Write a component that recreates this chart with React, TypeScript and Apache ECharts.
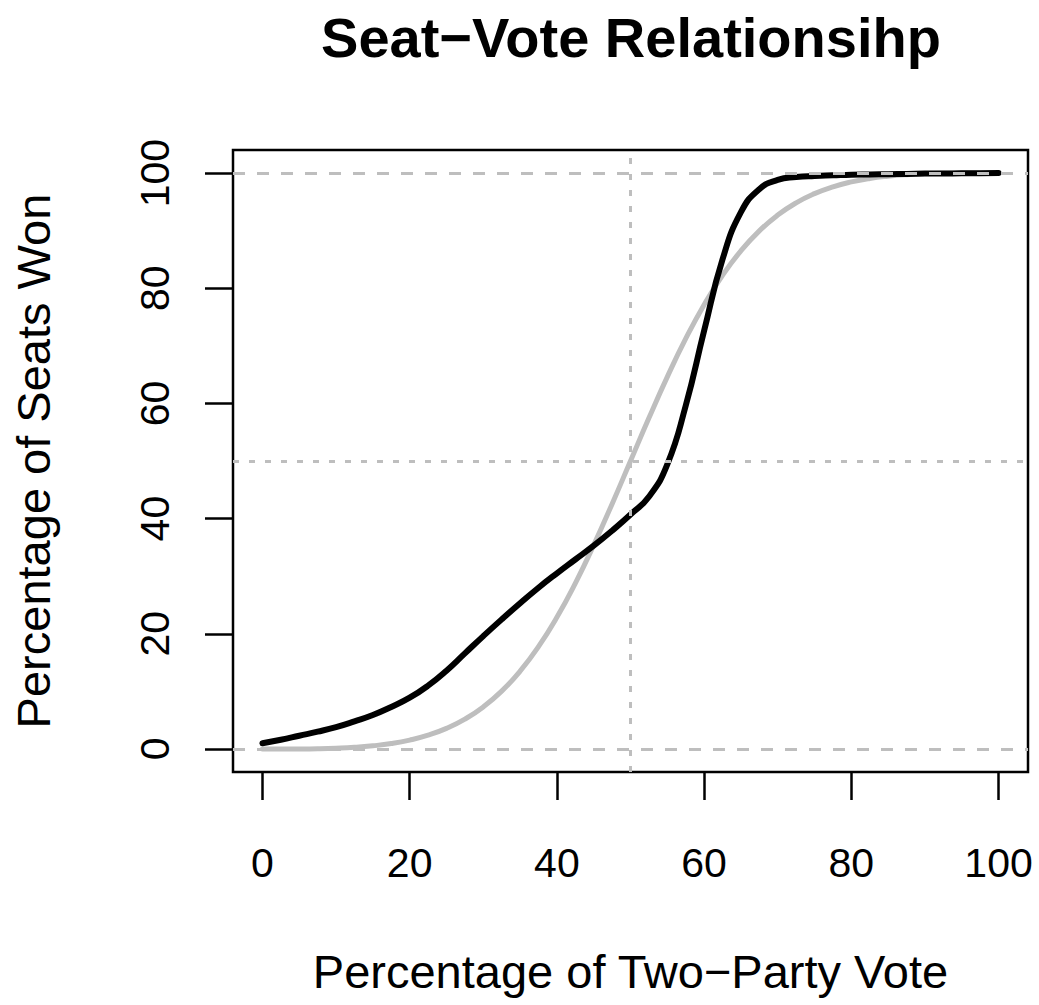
import React, { useEffect, useRef } from "react";
import * as echarts from "echarts";

// Percentage of two-party vote (x positions of the curve samples)
const voteShare = [
  0, 2.5, 5, 7.5, 10, 12.5, 15, 17.5, 20, 22.5,
  25, 27.5, 30, 32.5, 35, 37.5, 40, 42.5, 45, 47.5,
  50, 52.5, 55, 57.5, 60, 62.5, 65, 67.5, 70, 72.5,
  75, 77.5, 80, 82.5, 85, 87.5, 90, 92.5, 95, 97.5, 100,
];

// Black curve: percentage of seats won
const seatsBlack = [
  1.0, 1.6, 2.3, 3.0, 3.8, 4.8, 5.9, 7.3, 8.9, 11.0,
  13.6, 16.6, 19.6, 22.5, 25.3, 28.0, 30.5, 32.9, 35.3, 37.9,
  40.7, 43.8, 49.4, 59.6, 72.6, 85.0, 93.2, 97.2, 98.8, 99.3,
  99.5, 99.6, 99.7, 99.75, 99.8, 99.85, 99.9, 99.92, 99.95, 99.97, 100,
];

// Grey curve: percentage of seats won
const seatsGrey = [
  0.0, 0.0, 0.01, 0.05, 0.14, 0.29, 0.55, 0.94, 1.54, 2.39,
  3.57, 5.17, 7.3, 10.04, 13.5, 17.76, 22.86, 28.77, 35.39, 42.55,
  50.0, 57.45, 64.61, 71.23, 77.14, 82.24, 86.5, 89.96, 92.7, 94.83,
  96.43, 97.61, 98.46, 99.06, 99.45, 99.71, 99.86, 99.95, 99.99, 100, 100,
];

const xTicks = [0, 20, 40, 60, 80, 100];
const yTicks = [0, 20, 40, 60, 80, 100];
const refSeatsDashed = [0, 100];
const refSeatsDotted = [50];
const refVoteDotted = [50];

const TITLE = "Seat−Vote Relationsihp";
const X_NAME = "Percentage of Two−Party Vote";
const Y_NAME = "Percentage of Seats Won";

const FONT = "'Liberation Sans', Arial, Helvetica, sans-serif";
const GREY = "#bebebe";

export default function App() {
  const ref = useRef<HTMLDivElement>(null);

  useEffect(() => {
    if (!ref.current) return;
    const chart = echarts.init(ref.current, null, { renderer: "svg" });

    const black = voteShare.map((v, i) => [v, seatsBlack[i]]);
    const grey = voteShare.map((v, i) => [v, seatsGrey[i]]);

    const dashedStyle = { color: GREY, width: 3, type: [12, 12] as number[] };
    const dottedStyle = { color: GREY, width: 3, type: [6, 10] as number[] };

    const markData: any[] = [
      ...refSeatsDashed.map((y) => ({ yAxis: y, lineStyle: dashedStyle })),
      ...refSeatsDotted.map((y) => ({ yAxis: y, lineStyle: dottedStyle })),
      ...refVoteDotted.map((x) => ({ xAxis: x, lineStyle: dottedStyle })),
    ];

    chart.setOption({
      animation: false,
      backgroundColor: "#ffffff",
      title: {
        text: TITLE,
        left: 626,
        top: 4,
        textAlign: "center",
        textStyle: {
          fontFamily: FONT,
          fontWeight: "bold",
          fontSize: 56,
          color: "#000",
        },
      },
      grid: {
        left: 233,
        top: 150,
        width: 795,
        height: 622,
        show: true,
        borderColor: "#000",
        borderWidth: 2.5,
        backgroundColor: "transparent",
        containLabel: false,
        outerBoundsMode: "none",
      },
      xAxis: {
        type: "value",
        min: -4,
        max: 104,
        name: X_NAME,
        nameLocation: "middle",
        nameGap: 176,
        nameTextStyle: { fontFamily: FONT, fontSize: 47, color: "#000" },
        axisLine: { show: false, onZero: false },
        splitLine: { show: false },
        axisTick: {
          show: true,
          inside: false,
          length: 28,
          customValues: xTicks,
          lineStyle: { color: "#000", width: 2.5 },
        },
        axisLabel: {
          customValues: xTicks,
          margin: 70,
          fontSize: 41,
          fontFamily: FONT,
          color: "#000",
        },
      },
      yAxis: {
        type: "value",
        min: -4,
        max: 104,
        name: Y_NAME,
        nameLocation: "middle",
        nameGap: 176,
        nameRotate: 90,
        nameTextStyle: { fontFamily: FONT, fontSize: 47, color: "#000" },
        axisLine: { show: false, onZero: false },
        splitLine: { show: false },
        axisTick: {
          show: true,
          inside: false,
          length: 28,
          customValues: yTicks,
          lineStyle: { color: "#000", width: 2.5 },
        },
        axisLabel: {
          customValues: yTicks,
          rotate: 90,
          margin: 58,
          fontSize: 41,
          fontFamily: FONT,
          color: "#000",
        },
      },
      series: [
        {
          type: "line",
          data: grey,
          smooth: 0.5,
          showSymbol: false,
          symbol: "none",
          z: 2,
          lineStyle: { color: GREY, width: 5, cap: "round", join: "round" },
        },
        {
          type: "line",
          data: black,
          smooth: 0.5,
          showSymbol: false,
          symbol: "none",
          z: 3,
          lineStyle: { color: "#000", width: 6, cap: "round", join: "round" },
          markLine: {
            silent: true,
            symbol: "none",
            label: { show: false },
            z: 10,
            data: markData,
          },
        },
      ],
    });

    return () => chart.dispose();
  }, []);

  return (
    <div
      ref={ref}
      style={{ position: "absolute", left: 0, top: 0, width: 1039, height: 1005 }}
    />
  );
}
